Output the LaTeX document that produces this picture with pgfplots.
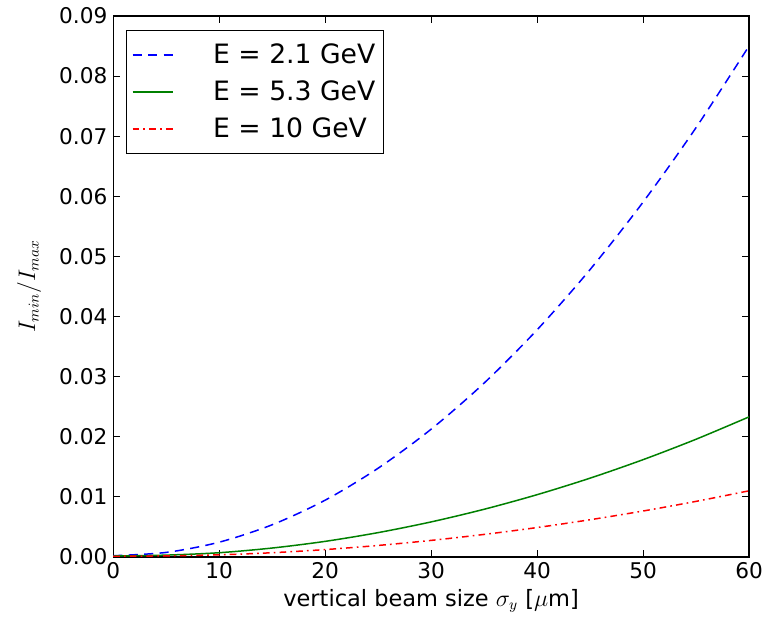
\documentclass[border=0pt]{standalone}
\usepackage{pgfplots}
\pgfplotsset{compat=1.18}
\usepackage{fontspec}
\setmainfont{DejaVu Sans}
\definecolor{mplgreen}{RGB}{0,128,0}
\begin{document}
\begin{tikzpicture}
\begin{axis}[
  scale only axis,
  width=382pt, height=325pt,
  xmin=0, xmax=60, ymin=0, ymax=0.09,
  xtick={0,10,...,60},
  ytick={0,0.01,...,0.09},
  scaled y ticks=false,
  yticklabel style={/pgf/number format/fixed, /pgf/number format/fixed zerofill, /pgf/number format/precision=2},
  /pgf/number format/assume math mode=true,
  tick align=inside,
  tick pos=both,
  major tick length=4pt,
  tick style={black, line width=0.5pt},
  axis line style={black, line width=0.8pt},
  ticklabel style={font=\fontsize{13}{15}\selectfont},
  label style={font=\fontsize{13.5}{16}\selectfont},
  xlabel={vertical beam size $\sigma_y$ [$\mu$m]},
  ylabel={$I_{min}/I_{max}$},
  ylabel shift=4pt,
  xlabel shift=-1pt,
  legend cell align=left,
  legend style={draw=black, line width=0.8pt, font=\fontsize{16}{19}\selectfont, at={(0.0204,0.974)}, anchor=north west, inner xsep=3pt, inner ysep=6pt, row sep=4.8pt},
  legend image code/.code={\draw[#1, line width=0.9pt] (8pt,0pt) -- (32pt,0pt);},
]
\addplot[blue, line width=0.9pt, dash pattern=on 5.5pt off 3.8pt, smooth] coordinates {
(0,0.0002) (5,0.00075) (10,0.00245) (15,0.00535) (20,0.00944) (25,0.01476) (30,0.02125)
(35,0.02892) (40,0.03778) (45,0.04781) (50,0.05903) (55,0.07142) (60,0.085)};
\addlegendentry{\hspace{22pt}E = 2.1 GeV\hspace{5pt}}
\addplot[mplgreen, line width=0.9pt, smooth] coordinates {
(0,0.00015) (5,0.0003) (10,0.0007) (15,0.00148) (20,0.002589) (25,0.004045) (30,0.005825)
(35,0.007928) (40,0.010356) (45,0.013106) (50,0.016181) (55,0.019579) (60,0.0233)};
\addlegendentry{\hspace{22pt}E = 5.3 GeV\hspace{5pt}}
\addplot[red, line width=0.9pt, dash pattern=on 4pt off 2.5pt on 1pt off 2.5pt, smooth] coordinates {
(0,0.0001) (5,0.00018) (10,0.00035) (15,0.0007) (20,0.001222) (25,0.00191) (30,0.00275)
(35,0.003743) (40,0.004889) (45,0.006188) (50,0.007639) (55,0.009243) (60,0.011)};
\addlegendentry{\hspace{22pt}E = 10 GeV}
\end{axis}
\pgfresetboundingbox
\path[use as bounding box] ([xshift=-68pt,yshift=-36.6pt]current axis.south west) rectangle ([xshift=15pt,yshift=9.6pt]current axis.north east);
\end{tikzpicture}
\end{document}
